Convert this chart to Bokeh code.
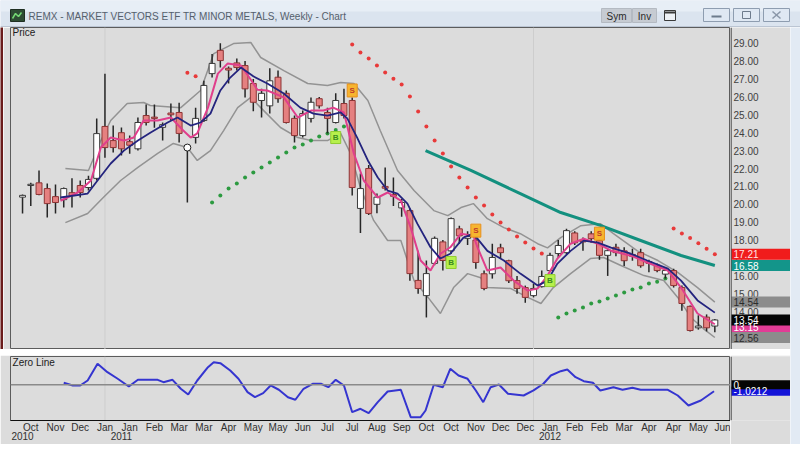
from bokeh.plotting import figure
from bokeh.layouts import column, row
from bokeh.models import (Range1d, FixedTicker, LinearAxis, Label, Span, ColumnDataSource)
from bokeh.core.properties import value
from bokeh.embed import file_html
from bokeh.resources import INLINE

FONT = "Liberation Sans"
BG = "#dcdcdc"
CHROME = "#dbe4ef"

# ---------------- data ----------------
title_text = "REMX - MARKET VECTORS ETF TR MINOR METALS, Weekly - Chart"

week_idx = list(range(85))
opens = [20.40, 21.05, 21.20, 20.88, 20.43, 20.26, 20.65, 21.05, 20.94, 21.45,
         24.35, 23.56, 24.00, 23.50, 23.10, 24.96, 24.87, 24.30, 25.10, 25.13,
         23.20, 23.74, 24.68, 27.30, 28.60, 27.60, 27.90, 27.75, 26.75, 25.80,
         25.50, 27.10, 26.20, 24.80, 23.84, 24.80, 25.90, 25.13, 24.57, 25.63,
         25.80, 19.77, 22.00, 20.00, 21.00, 20.55, 19.80, 19.65, 15.75, 14.90,
         16.70, 17.90, 17.40, 18.63, 18.10, 18.00, 16.12, 16.12, 17.57, 16.85,
         15.74, 15.35, 14.90, 15.40, 16.30, 17.25, 17.30, 18.40, 18.00, 18.35,
         17.97, 17.15, 17.60, 17.40, 17.20, 17.30, 16.80, 16.60, 16.10, 16.30,
         15.35, 14.30, 13.10, 13.70, 13.20]
highs = [20.55, 21.20, 21.89, 21.16, 21.10, 20.94, 21.45, 21.33, 21.60, 24.80,
         27.30, 24.40, 24.29, 23.84, 24.85, 25.57, 25.57, 24.57, 25.63, 25.68,
         23.25, 25.40, 26.90, 28.40, 29.00, 27.70, 28.15, 28.00, 27.00, 26.46,
         27.60, 27.47, 26.36, 24.96, 25.24, 25.96, 26.00, 25.40, 26.20, 26.46,
         25.96, 21.72, 22.20, 20.60, 22.05, 21.50, 20.30, 19.77, 17.40, 16.86,
         18.20, 18.00, 19.27, 18.80, 18.50, 18.40, 16.30, 17.80, 17.80, 16.90,
         16.00, 15.46, 15.57, 16.30, 17.30, 18.00, 18.63, 18.50, 18.15, 18.50,
         18.40, 17.52, 17.80, 17.60, 17.52, 17.52, 16.90, 16.70, 16.40, 16.40,
         15.46, 14.35, 13.80, 13.85, 13.60]
lows = [19.49, 19.90, 20.50, 19.26, 19.49, 19.82, 19.82, 20.38, 20.77, 21.33,
        22.60, 22.90, 22.73, 22.83, 23.00, 24.40, 24.28, 23.56, 24.68, 23.45,
        20.10, 23.40, 24.60, 27.08, 27.64, 26.75, 27.47, 25.96, 25.20, 24.85,
        25.07, 25.68, 24.52, 23.45, 23.73, 24.57, 25.35, 23.96, 24.52, 24.80,
        20.49, 18.40, 19.40, 19.50, 20.77, 19.90, 19.30, 15.73, 15.00, 13.68,
        16.60, 16.30, 17.23, 17.80, 17.73, 16.40, 15.20, 15.85, 17.00, 15.60,
        15.00, 14.50, 14.80, 15.35, 16.20, 17.00, 17.20, 17.73, 17.40, 17.85,
        16.90, 16.00, 17.10, 16.55, 16.85, 16.46, 16.20, 16.20, 15.85, 15.35,
        14.05, 12.90, 13.00, 12.90, 12.85]
closes = [20.50, 21.12, 20.55, 20.04, 20.10, 20.88, 20.49, 20.66, 21.39, 23.95,
          23.17, 23.17, 23.10, 23.30, 24.57, 24.57, 24.80, 24.45, 25.00, 23.96,
          23.15, 24.80, 26.64, 27.87, 28.03, 27.50, 27.64, 26.45, 25.70, 26.20,
          26.90, 25.90, 24.57, 23.84, 25.07, 25.70, 25.50, 24.80, 25.80, 24.96,
          20.94, 20.88, 19.49, 20.40, 20.90, 20.45, 20.10, 16.13, 15.30, 16.13,
          18.10, 16.86, 19.20, 18.24, 18.20, 16.75, 15.30, 17.03, 17.30, 15.73,
          15.30, 14.80, 15.30, 15.97, 17.15, 17.70, 18.53, 17.85, 17.90, 18.08,
          17.15, 17.41, 17.30, 16.85, 17.10, 16.57, 16.70, 16.30, 16.30, 15.46,
          14.46, 12.95, 13.20, 13.10, 13.54]

bb_up_x = [5.2, 8.0, 9.5, 10.7, 12.7, 14.7, 15.5, 19.2, 21.6, 23.2,
           25.6, 27.7, 28.9, 31.7, 34.6, 37.0, 38.6, 40.2, 41.9, 43.4,
           45.5, 47.5, 49.9, 51.6, 53.2, 54.7, 56.4, 58.4, 60.4, 62.5,
           63.7, 65.3, 67.7, 70.1, 71.7, 74.6, 77.1, 79.5, 81.9, 84.0]
bb_up_y = [22.0, 21.89, 23.56, 24.68, 25.63, 25.69, 25.52, 25.4, 26.36, 28.42,
           28.98, 29.04, 28.2, 27.47, 26.75, 26.64, 26.8, 26.75, 25.8, 24.12,
           21.89, 20.77, 19.65, 19.37, 19.82, 20.04, 19.2, 18.7, 18.36, 17.8,
           17.57, 18.14, 18.8, 18.92, 18.36, 17.4, 16.86, 16.2, 15.35, 14.54]
bb_lo_x = [5.2, 7.9, 9.8, 11.9, 14.0, 16.4, 18.3, 20.0, 21.2, 22.8,
           24.4, 26.1, 27.7, 28.9, 31.3, 33.4, 35.0, 37.0, 38.6, 39.8,
           41.0, 42.6, 44.3, 45.9, 47.5, 49.2, 50.7, 52.3, 54.0, 55.6,
           56.4, 59.2, 61.3, 62.9, 64.4, 66.5, 68.9, 70.5, 72.6, 75.4,
           77.8, 79.5, 81.1, 82.6, 84.0]
bb_lo_y = [18.98, 19.49, 20.38, 21.33, 22.06, 22.84, 23.4, 23.17, 22.45, 23.0,
           24.12, 25.4, 25.97, 25.4, 24.29, 23.73, 23.56, 23.56, 23.96, 22.84,
           20.94, 19.1, 17.98, 17.98, 15.74, 14.8, 13.9, 15.35, 16.13, 15.9,
           15.35, 15.3, 14.8, 14.46, 15.35, 16.13, 16.97, 17.03, 16.58, 16.02,
           15.74, 14.8, 13.68, 13.06, 12.56]

ma_x = [4.6, 7.9, 9.1, 10.7, 12.3, 14.0, 15.5, 17.6, 18.8, 20.4,
        21.6, 22.8, 24.0, 25.2, 26.5, 28.0, 29.7, 31.7, 33.7, 35.3,
        37.0, 38.6, 39.4, 40.6, 41.9, 43.1, 44.3, 45.5, 46.7, 47.9,
        49.5, 50.7, 51.9, 53.5, 54.7, 56.4, 58.4, 60.4, 62.5, 63.7,
        64.9, 66.5, 68.1, 69.8, 71.4, 73.8, 75.8, 78.3, 79.9, 81.9, 84.0]
ma_y = [20.38, 20.6, 21.33, 22.28, 23.0, 23.56, 24.0, 24.57, 24.85, 24.4,
        24.57, 25.07, 26.36, 27.08, 27.64, 27.15, 26.75, 26.19, 25.4, 25.07,
        24.96, 25.13, 24.8, 23.73, 22.45, 21.5, 20.77, 20.6, 20.04, 18.92,
        17.6, 16.97, 17.24, 18.14, 18.36, 17.4, 16.86, 16.13, 15.46, 15.74,
        16.69, 17.4, 17.97, 17.86, 17.58, 17.24, 16.86, 16.41, 15.74, 14.63, 13.95]

fast_x = [4.6, 6.7, 8.3, 9.5, 10.7, 12.3, 13.5, 14.7, 16.4, 18.0,
          19.5, 20.4, 21.2, 22.5, 23.7, 24.9, 26.5, 27.5, 28.5, 29.7,
          31.7, 33.4, 35.0, 36.5, 37.7, 39.0, 40.2, 41.4, 43.1, 44.3,
          45.9, 47.1, 48.3, 49.5, 50.7, 51.9, 53.2, 54.7, 55.2, 56.4,
          58.0, 59.6, 61.3, 62.5, 63.7, 64.9, 66.5, 68.1, 69.8, 71.4,
          73.8, 75.8, 78.3, 79.9, 81.9, 84.0]
fast_y = [20.2, 20.66, 21.33, 23.17, 23.73, 23.56, 23.73, 24.68, 24.68, 24.85,
          24.12, 23.73, 23.96, 25.4, 27.3, 27.87, 27.75, 27.1, 26.4, 26.36,
          25.97, 24.85, 25.24, 25.24, 25.4, 25.13, 22.84, 21.33, 20.38, 20.66,
          20.21, 18.7, 16.86, 16.3, 17.24, 17.6, 18.36, 18.25, 17.6, 16.3,
          16.47, 15.74, 15.18, 15.3, 16.02, 16.97, 17.8, 18.08, 17.8, 17.41,
          17.13, 16.75, 16.3, 15.35, 13.9, 13.3]

long_x = [48.9, 54.4, 60.4, 65.3, 70.1, 75.0, 79.9, 84.0]
long_y = [23.0, 21.89, 20.6, 19.54, 18.82, 17.98, 17.14, 16.58]

sar_red_x = [20, 21, 40, 41, 42, 43, 44, 45, 46, 47, 48, 49, 50, 51, 52, 53,
             54, 55, 56, 57, 58, 59, 60, 61, 62, 63, 79, 80, 81, 82, 83, 84]
sar_red_y = [27.35, 27.15, 28.93, 28.48, 28.15, 27.75, 27.36, 27.02, 26.69, 26.02,
             25.18, 24.35, 23.56, 22.84, 22.11, 21.5, 20.94, 20.38, 19.93, 19.43,
             18.98, 18.59, 18.2, 17.87, 17.53, 17.25, 18.65, 18.37, 18.12, 17.82,
             17.52, 17.21]
sar_grn_x = [23, 24, 25, 26, 27, 28, 29, 30, 31, 32, 33, 34, 35, 36, 37, 38, 39,
             65, 66, 67, 68, 69, 70, 71, 72, 73, 74, 75, 76, 77, 78]
sar_grn_y = [20.1, 20.49, 20.88, 21.16, 21.5, 21.78, 22.06, 22.34, 22.62, 22.9,
             23.17, 23.34, 23.56, 23.79, 23.96, 24.15, 24.35,
             13.68, 13.9, 14.07, 14.24, 14.46, 14.57, 14.74, 14.9, 15.07, 15.24,
             15.35, 15.57, 15.68, 15.85]

sell_x = [40, 55, 70]
sell_y = [26.36, 18.53, 18.36]
buy_x = [38, 52, 64]
buy_y = [23.73, 16.75, 15.74]
ring_x = [20]
ring_y = [23.17]

osc_x = [5.0, 6.1, 7.0, 7.9, 9.1, 10.3, 11.5, 12.9, 14.0, 16.4,
         17.1, 18.2, 19.2, 20.1, 21.2, 22.5, 23.2, 24.0, 25.2, 26.2,
         27.3, 28.2, 29.2, 30.1, 31.1, 32.2, 33.1, 34.1, 35.2, 36.2,
         37.1, 38.0, 39.0, 40.0, 41.0, 42.0, 43.1, 44.3, 45.9, 47.1,
         48.3, 48.9, 49.9, 51.0, 51.9, 52.9, 54.0, 55.0, 55.9, 56.8,
         57.8, 58.9, 60.8, 62.0, 63.2, 64.1, 65.3, 66.1, 67.1, 68.1,
         69.2, 70.1, 71.7, 72.8, 74.0, 75.0, 78.3, 79.5, 80.8, 82.3, 83.9]
osc_y = [0.32, -0.11, -0.11, 0.68, 3.33, 2.0, 1.0, -0.27, 0.79, 0.79,
         0.41, 0.79, -0.63, -1.54, 0.68, 2.79, 3.59, 3.43, 2.27, 0.95,
         -1.17, -1.97, -1.33, -0.11, -0.79, -1.97, -2.38, -0.63, 0.16, 0.16,
         -0.38, 0.79, -0.11, -4.35, -3.81, -4.51, -2.76, -1.06, -0.79, -5.14,
         -5.14, -4.08, 0.0, -0.38, 2.54, 1.48, 0.95, -0.9, -2.76, -0.38,
         0.05, -1.43, -1.7, -0.9, 0.16, 1.48, 2.16, 2.43, 1.21, 0.57,
         0.32, -0.9, -0.38, -0.79, -0.48, -0.79, -0.79, -1.7, -3.29, -2.49, -1.02]

price_ticks = [13, 14, 15, 16, 17, 18, 19, 20, 21, 22, 23, 24, 25, 26, 27, 28, 29]
month_ticks = [1, 4, 7, 10, 13, 16, 19, 22, 25, 28, 31, 34, 37, 40, 43, 46, 49, 52,
               55, 58, 61, 64, 67, 70, 73, 76, 79, 82, 85]
month_labels = ["Oct", "Nov", "Dec", "Jan", "Jan", "Feb", "Mar", "Mar", "Apr", "May",
                "May", "Jun", "Jul", "Jul", "Aug", "Sep", "Oct", "Oct", "Nov", "Dec",
                "Dec", "Jan", "Feb", "Feb", "Mar", "Apr", "Apr", "May", "Jun"]
year_ticks = [0, 12, 64]
year_labels = ["2010", "2011", "2012"]
year_starts = [10, 62]

# value tags on the price scale (drawn in this order)
tag_values = [17.21, 16.58, 14.54, 13.15, 13.54, 12.56]
tag_texts = ["17.21", "16.58", "14.54", "13.15", "13.54", "12.56"]
tag_fill = ["#f01c1c", "#13958a", "#8c8c8c", "#e23c96", "#050505", "#8c8c8c"]
tag_text_color = ["#ffe6e6", "#ffffff", "#2b2b2b", "#ffffff", "#ffffff", "#2b2b2b"]
osc_tag_values = [-1.02, 0.0]
osc_tag_texts = ["-1.0212", "0"]
osc_tag_fill = ["#1414d8", "#050505"]

X0, X1 = -1.46, 85.9
xr = Range1d(X0, X1)


def plain(w, h, color, **kw):
    f = figure(width=w, height=h, x_range=kw.pop("x_range", Range1d(0, 1)),
               y_range=kw.pop("y_range", Range1d(0, 1)),
               x_axis_location=None, y_axis_location=None, toolbar_location=None,
               output_backend="svg", min_border=0, background_fill_color=color,
               border_fill_color=color, outline_line_color=None, **kw)
    f.grid.visible = False
    return f


# ---------------- title bar ----------------
t = plain(800, 27, CHROME, x_range=Range1d(0, 800), y_range=Range1d(27, 0))
t.quad(left=[0], right=[800], top=[0], bottom=[11], fill_color="#e7eef6", line_color=None)
t.segment(x0=[0], y0=[26.5], x1=[800], y1=[26.5], line_color="#9aa7b6", line_width=1)
t.quad(left=[10], right=[24], top=[9], bottom=[21], fill_color="#2d4c33", line_color="#1e2e22")
t.line(x=[12, 15, 18, 21], y=[18, 13, 16, 12], line_color="#74d874", line_width=1.5)
t.text(x=[28], y=[15.5], text=[title_text], text_font=value(FONT), text_font_size="10px",
       text_color="#55606c", text_baseline="middle")
t.quad(left=[601, 632], right=[631, 656], top=[8, 8], bottom=[22, 22],
       fill_color="#c6cbd2", line_color="#b4bac2")
t.text(x=[616, 644], y=[15.5, 15.5], text=["Sym", "Inv"], text_font=value(FONT),
       text_font_size="10px", text_color="#2a2a2a", text_baseline="middle", text_align="center")
t.quad(left=[664], right=[675], top=[10], bottom=[20], fill_color="#eef2f6", line_color="#3a3a3a")
t.segment(x0=[664], y0=[12], x1=[675], y1=[12], line_color="#3a3a3a", line_width=2)
t.quad(left=[703, 733, 763], right=[729, 759, 789], top=[8, 8, 8], bottom=[21, 21, 21],
       fill_color="#dfe8f3", line_color="#8e9db0")
t.segment(x0=[711], y0=[16], x1=[721], y1=[16], line_color="#6d7b8c", line_width=2)
t.quad(left=[742], right=[750], top=[11], bottom=[18], fill_color=None, line_color="#6d7b8c")
t.segment(x0=[772, 772], y0=[11, 18], x1=[780, 780], y1=[18, 11], line_color="#8a97a8", line_width=1.5)

# ---------------- price panel ----------------
yr_price = Range1d(11.89, 29.877)
p = figure(width=727, height=322, x_range=xr, y_range=yr_price,
           x_axis_location=None, y_axis_location=None, toolbar_location=None,
           output_backend="svg", min_border=0, min_border_left=7,
           background_fill_color=BG, border_fill_color=BG, outline_line_color="#5c5c5c")
p.grid.visible = False

for ys in year_starts:
    p.add_layout(Span(location=ys, dimension="height", line_color="#cdcdcd",
                      line_width=1, level="underlay"))

p.line(bb_up_x, bb_up_y, line_color="#939393", line_width=1.5)
p.line(bb_lo_x, bb_lo_y, line_color="#939393", line_width=1.5)
p.line(long_x, long_y, line_color="#13907f", line_width=3)
p.scatter(sar_red_x, sar_red_y, marker="circle", size=4, fill_color="#e83a3a", line_color=None)
p.scatter(sar_grn_x, sar_grn_y, marker="circle", size=4, fill_color="#2c9a40", line_color=None)

src = ColumnDataSource(dict(
    x=week_idx, h=highs, l=lows,
    top=[max(o, c) for o, c in zip(opens, closes)],
    bottom=[min(o, c) for o, c in zip(opens, closes)],
    fill=["#e58080" if c < o else "#ffffff" for o, c in zip(opens, closes)],
    edge=["#8c3434" if c < o else "#3a3a3a" for o, c in zip(opens, closes)],
))
p.segment(x0="x", y0="h", x1="x", y1="l", source=src, line_color="#262626", line_width=1.5)
p.vbar(x="x", width=0.72, top="top", bottom="bottom", fill_color="fill",
       line_color="edge", line_width=1, source=src)

p.line(fast_x, fast_y, line_color="#e03f8c", line_width=2)
p.line(ma_x, ma_y, line_color="#24247e", line_width=1.8)

p.scatter(ring_x, ring_y, marker="circle", size=7, fill_color="#ffffff", line_color="#202020")
p.rect(sell_x, sell_y, width=10, height=13, width_units="screen", height_units="screen",
       fill_color="#f6b52f", line_color="#e8901c")
p.text(sell_x, sell_y, text=["S"] * len(sell_x), text_font=value(FONT), text_font_size="8px",
       text_font_style="bold", text_color="#c0392b", text_align="center", text_baseline="middle")
p.rect(buy_x, buy_y, width=10, height=12, width_units="screen", height_units="screen",
       fill_color="#b6f04c", line_color="#90cc30")
p.text(buy_x, buy_y, text=["B"] * len(buy_x), text_font=value(FONT), text_font_size="8px",
       text_font_style="bold", text_color="#3a8a20", text_align="center", text_baseline="middle")

p.add_layout(Label(x=X0 + 0.25, y=29.6, text="Price", text_font=FONT, text_font_size="10px",
                   text_color="#202020", text_baseline="middle"))

# price scale column (right side), sharing the price y range
ps = plain(60, 322, BG, x_range=Range1d(0, 60), y_range=yr_price)
ps.add_layout(Span(location=0.5, dimension="height", line_color="#101010", line_width=1))
ps.text(x=[3] * len(price_ticks), y=price_ticks, text=["%.2f" % v for v in price_ticks],
        text_font=value(FONT), text_font_size="10px", text_color="#404040",
        text_baseline="middle")
ps.rect(x=[30.5] * len(tag_values), y=tag_values, width=59, height=11, height_units="screen",
        fill_color=tag_fill, line_color=None)
ps.text(x=[3] * len(tag_values), y=tag_values, text=tag_texts, text_font=value(FONT),
        text_font_size="10px", text_color=tag_text_color, text_baseline="middle")

left_strip = plain(3, 322, "#6b1d1d")
sep = plain(790, 6, "#efefef")

# ---------------- oscillator panel ----------------
yr_osc = Range1d(-5.67, 4.49)
q = figure(width=730, height=89, x_range=xr, y_range=yr_osc,
           x_axis_location="below", y_axis_location=None, toolbar_location=None,
           output_backend="svg", min_border=0, min_border_left=10,
           min_border_top=1, min_border_bottom=24,
           background_fill_color=BG, border_fill_color=BG, outline_line_color="#5c5c5c")
q.grid.visible = False
xa = q.xaxis[0]
xa.ticker = FixedTicker(ticks=month_ticks)
xa.major_label_overrides = {tk: lb for tk, lb in zip(month_ticks, month_labels)}
xa.axis_line_color = "#101010"
xa.major_tick_in = 0
xa.major_tick_out = 0
xa.minor_tick_line_color = None
xa.major_tick_line_color = None
xa.major_label_standoff = 1
xa.major_label_text_font = FONT
xa.major_label_text_font_size = "10px"
xa.major_label_text_color = "#303030"
yr_axis = LinearAxis(ticker=FixedTicker(ticks=year_ticks),
                     major_label_overrides={tk: lb for tk, lb in zip(year_ticks, year_labels)},
                     axis_line_color=None, major_tick_line_color=None, minor_tick_line_color=None,
                     major_tick_in=0, major_tick_out=0, minor_tick_in=0, minor_tick_out=0,
                     major_label_standoff=-4, major_label_text_font=FONT,
                     major_label_text_font_size="10px", major_label_text_color="#303030")
q.add_layout(yr_axis, "below")

for ys in year_starts:
    q.add_layout(Span(location=ys, dimension="height", line_color="#cdcdcd",
                      line_width=1, level="underlay"))
q.add_layout(Span(location=0, dimension="width", line_color="#8a8a8a", line_width=1.5))
q.line(osc_x, osc_y, line_color="#3535d0", line_width=2)
q.add_layout(Label(x=X0 + 0.25, y=3.55, text="Zero Line", text_font=FONT,
                   text_font_size="10px", text_color="#202020", text_baseline="middle"))

qs = plain(60, 89, BG, x_range=Range1d(0, 60), y_range=yr_osc, min_border_top=1,
           min_border_bottom=24)
qs.add_layout(Span(location=0.5, dimension="height", line_color="#101010", line_width=1))
qs.rect(x=[30.5] * len(osc_tag_values), y=osc_tag_values, width=59, height=9,
        height_units="screen", fill_color=osc_tag_fill, line_color=None)
qs.text(x=[3] * len(osc_tag_values), y=osc_tag_values, text=osc_tag_texts,
        text_font=value(FONT), text_font_size="10px", text_color="#ffffff",
        text_baseline="middle")

right_strip = plain(10, 417, "#e2eaf4")
bottom_strip = plain(800, 6, "#e2eaf4")

layout = column(t,
                row(column(row(left_strip, p, ps), sep, row(q, qs)), right_strip),
                bottom_strip)

open("out.html", "w").write(file_html(layout, INLINE))
